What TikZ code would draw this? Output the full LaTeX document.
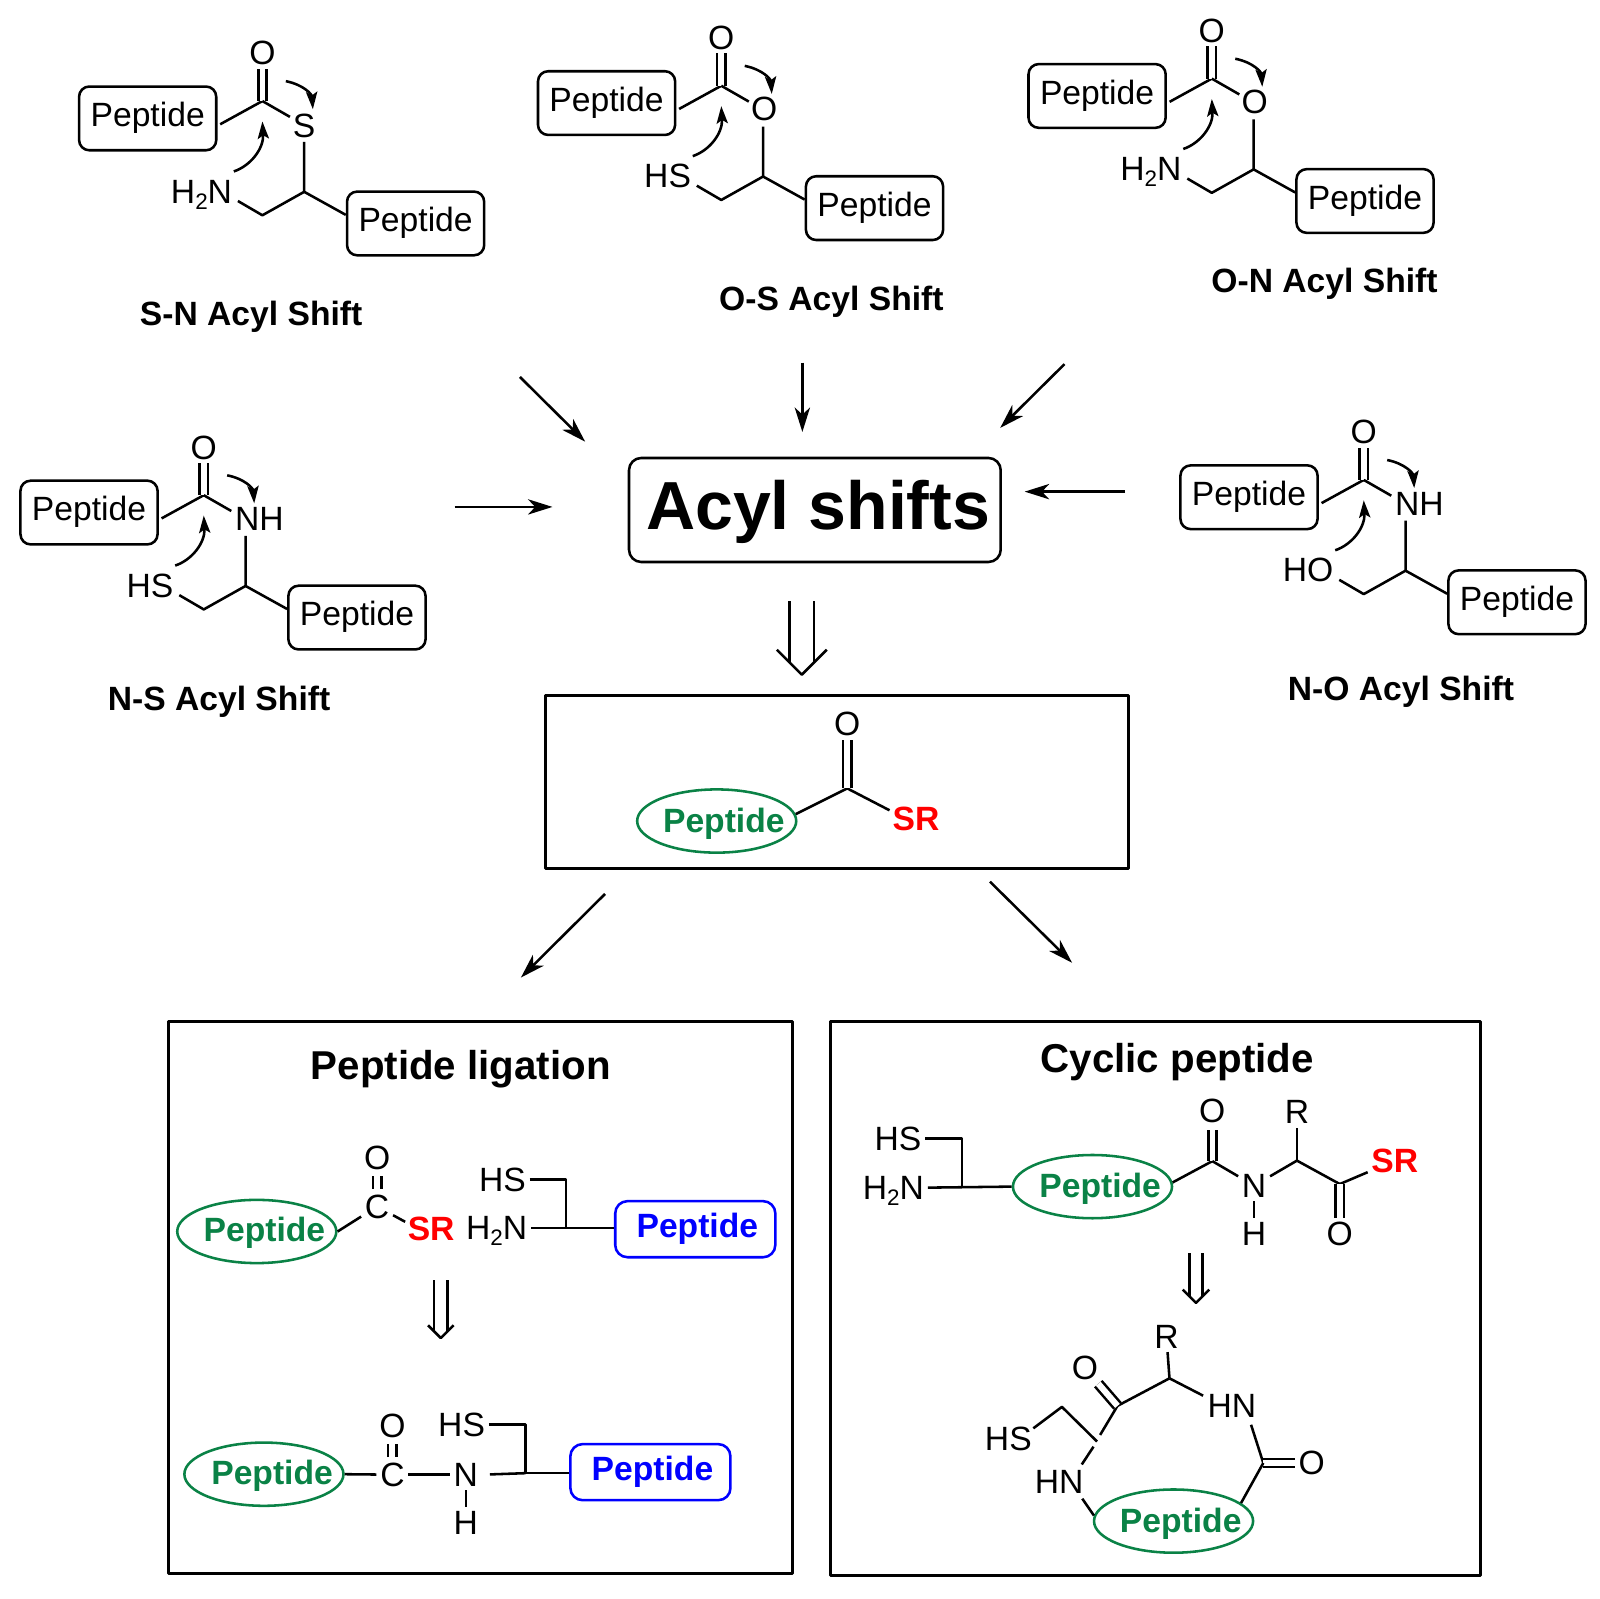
\documentclass[tikz,border=0pt]{standalone}
\usepackage{fontspec}
\setmainfont{Liberation Sans}
\usetikzlibrary{arrows.meta,shapes.geometric}
\definecolor{pgreen}{RGB}{10,130,70}
\newcommand\ats{\fontsize{33}{36}\selectfont}
\newcommand\Hii{H\raisebox{-6pt}{\fontsize{22}{22}\selectfont 2}N}
\tikzset{
  every path/.style={line width=2.5pt,line join=round},
  atom/.style={font=\ats,inner sep=2.5pt,anchor=base,text height=23pt,text depth=0pt},
  bfatom/.style={atom,font=\ats\bfseries},
  sr/.style={bfatom,text=red},
  shiftcap/.style={font=\fontsize{33}{36}\selectfont\bfseries,anchor=base,inner sep=0pt},
  title/.style={anchor=base,inner sep=0pt},
  pepbox/.style={draw,rounded corners=10pt,minimum width=134.5pt,minimum height=62.5pt,inner sep=0pt,font=\ats,text height=22.5pt,text depth=6.5pt},
  bluebox/.style={draw=blue,text=blue,rounded corners=12pt,minimum width=157pt,minimum height=55pt,inner sep=0pt,font=\ats\bfseries,text height=22.5pt,text depth=6.5pt},
  pepell/.style={draw=pgreen,ellipse,minimum width=156pt,minimum height=62pt,inner sep=0pt},
  peptxt/.style={bfatom,text=pgreen,text depth=0pt},
  frame/.style={draw,line width=3pt,inner sep=0pt},
  dbl/.style={double,double distance=5.5pt},
  rxn/.style={-{Stealth[length=24pt,width=15pt,inset=7pt]}},
  curly/.style={-{Stealth[length=17pt,width=11pt,inset=3.5pt]}},
}
\newcommand\acylmotif[5]{%
\begin{scope}[shift={(#2,#3)},name prefix=#1-]
  \node[pepbox] (p1) at (144,115.5) {Peptide};
  \node[pepbox] (p2) at (406.75,218.5) {Peptide};
  \coordinate (C) at (256.5,98.5);
  \coordinate (CH) at (297.5,187.5);
  \coordinate (CH2) at (256.5,210.5);
  \coordinate (Xa) at (283.5,114);
  \coordinate (Xb) at (297.5,138.5);
  \coordinate (Nb) at (232.5,196.5);
  \node[atom] (O) at (256.5,63) {O};
  #4
  \node[atom,anchor=base east] (Nu) at (230.5,198.5) {#5};
  \draw[shorten <=3pt] (p1.-6) -- (C);
  \draw[dbl] (C) -- (O);
  \draw (C) -- (Xa);
  \draw (Xb) -- (CH) -- (CH2) -- (Nb);
  \draw (CH) -- (p2.173);
  \coordinate (c1s) at (228.5,167.5);
  \coordinate (c1e) at (256.5,118.5);
  \coordinate (c2s) at (279.5,79);
  \coordinate (c2e) at (306,106.5);
  \draw[curly] (c1s) .. controls (245,162) and (258,145) .. (c1e);
  \draw[curly] (c2s) .. controls (297,82.5) and (305,92) .. (c2e);
\end{scope}}
\newcommand\retro[5]{% x, top, tip, half gap, head half
  \draw (#1-#4,#2) -- (#1-#4,#3-#4);
  \draw (#1+#4,#2) -- (#1+#4,#3-#4);
  \draw (#1-#5,#3-#5) -- (#1,#3) -- (#1+#5,#3-#5);}
\begin{document}
\begin{tikzpicture}[x=1pt,y=-1pt]
\useasboundingbox (-0.8,-0.6) rectangle (1567.2,1567.4);
\fill[white] (-0.8,-0.6) rectangle (1567.2,1567.4);

% five acyl-shift motifs
\acylmotif{sn}{0}{0}{\node[atom] (X) at (297.5,134) {S};}{\Hii}
\acylmotif{os}{450}{-15}{\node[atom] (X) at (298.5,132.5) {O};}{HS}
\acylmotif{on}{931}{-22}{\node[atom] (X) at (298.5,132.5) {O};}{\Hii}
\acylmotif{ns}{-57.5}{386.5}{\node[atom,anchor=base west,inner sep=0pt] (X) at (286,133.5) {NH};}{HS}
\acylmotif{no}{1080}{371.5}{\node[atom,anchor=base west,inner sep=0pt] (X) at (286,133.5) {NH};}{HO}

\node[shiftcap] (lsn) at (245.5,318.5) {S-N Acyl Shift};
\node[shiftcap] (los) at (814.5,303.5) {O-S Acyl Shift};
\node[shiftcap] (lon) at (1298,286.5) {O-N Acyl Shift};
\node[shiftcap] (lns) at (214,696.5) {N-S Acyl Shift};
\node[shiftcap] (lno) at (1373,686.5) {N-O Acyl Shift};

% central box and incoming arrows
\node[draw,rounded corners=12pt,minimum width=364.5pt,minimum height=102pt,inner sep=0pt] (acyl) at (798.25,499.5) {};
\node[anchor=base,inner sep=0pt,font=\fontsize{66.7}{70}\selectfont\bfseries] (acylt) at (801.5,519) {Acyl shifts};
\coordinate (a1s) at (509,369); \coordinate (a1e) at (573,432.5);
\coordinate (a2s) at (786,355); \coordinate (a2e) at (786,423);
\coordinate (a3s) at (1043,356.5); \coordinate (a3e) at (980,419);
\coordinate (a4s) at (445,496.5); \coordinate (a4e) at (541,496.5);
\coordinate (a5s) at (1102.5,481.5); \coordinate (a5e) at (1004,481.5);
\draw[rxn] (a1s) -- (a1e);
\draw[rxn] (a2s) -- (a2e);
\draw[rxn] (a3s) -- (a3e);
\draw[rxn] (a4s) -- (a4e);
\draw[rxn] (a5s) -- (a5e);
\retro{785.5}{589}{661}{12}{24.5}

% thioester box
\node[frame,minimum width=571.5pt,minimum height=170pt] (mb) at (819.75,766.5) {};
\node[pepell] (mE) at (702,804.5) {};
\node[peptxt] (mEt) at (709,816) {Peptide};
\coordinate (mC) at (830,772.5);
\coordinate (mSb) at (871.5,794);
\node[atom] (mO) at (830,721) {O};
\node[sr] (mS) at (897.5,814) {SR};
\draw (mE.5) -- (mC) -- (mSb);
\draw[dbl] (mC) -- (mO);
\coordinate (b1s) at (592.5,876); \coordinate (b1e) at (510,958);
\coordinate (b2s) at (970,864); \coordinate (b2e) at (1050.5,943.5);
\draw[rxn] (b1s) -- (b1e);
\draw[rxn] (b2s) -- (b2e);

% peptide ligation
\node[frame,minimum width=611.5pt,minimum height=540.5pt] (lb) at (470.25,1271.75) {};
\node[title,font=\fontsize{39.5}{42}\selectfont\bfseries] (lt) at (451,1057.5) {Peptide ligation};
\node[pepell] (lE) at (251,1207) {};
\node[peptxt] (lEt) at (258.5,1217) {Peptide};
\node[atom] (lC) at (369,1194) {C};
\node[atom] (lO) at (369,1146.5) {O};
\node[sr] (lS) at (422,1216) {SR};
\coordinate (lSb) at (396.5,1197.5);
\node[atom,anchor=base east] (lHS) at (518.5,1167.5) {HS};
\node[atom,anchor=base east] (lN) at (520,1215) {\Hii};
\coordinate (lJ) at (554,1204);
\node[bluebox] (lB) at (681,1204.75) {\hspace{4pt}Peptide};
\draw (lE.east) -- (lC);
\draw[dbl,double distance=6pt,shorten >=2pt,shorten <=2pt] (lC) -- (lO);
\draw (lC) -- (lSb);
\draw (lHS.east) -| (lJ);
\draw (lN.east) -- (lB.west |- lN.east);
\retro{431.5}{1255}{1311.5}{6.5}{12.5}

\node[pepell] (l2E) at (258,1445) {};
\node[peptxt] (l2Et) at (266,1455.5) {Peptide};
\node[atom] (l2C) at (384,1457) {C};
\node[atom] (l2O) at (384,1409.5) {O};
\node[atom] (l2N) at (456,1457) {N};
\node[atom] (l2H) at (456,1504) {H};
\node[atom,anchor=base east] (l2HS) at (478.5,1408) {HS};
\coordinate (l2J) at (514.5,1444);
\node[bluebox] (l2B) at (637,1443) {\hspace{4pt}Peptide};
\draw (l2E.east) -- (l2C);
\draw[dbl,double distance=6pt,shorten >=2pt,shorten <=2pt] (l2C) -- (l2O);
\draw (l2C) -- (l2N);
\draw (l2N) -- (l2H);
\draw[shorten <=8pt] (l2N.east) -- (l2J);
\draw (l2J) -- (l2B.west |- l2J);
\draw (l2HS.east) -| (l2J);

% cyclic peptide
\node[frame,minimum width=637pt,minimum height=542.5pt] (cb) at (1132.5,1272.75) {};
\node[title,font=\fontsize{39.5}{42}\selectfont\bfseries] (ct) at (1153.5,1051.5) {Cyclic peptide};
\node[atom,anchor=base east] (cHS) at (906.5,1127.5) {HS};
\node[atom,anchor=base east] (cNH) at (909,1175.5) {\Hii};
\coordinate (cJ) at (942.5,1164);
\node[pepell] (cE) at (1070.5,1163) {};
\node[peptxt] (cEt) at (1078,1174) {Peptide};
\coordinate (cC) at (1188,1138);
\node[atom] (cO) at (1188,1100.5) {O};
\node[atom] (cN) at (1229,1173.5) {N};
\node[atom] (cH) at (1229,1220.5) {H};
\coordinate (cCa) at (1271,1137.5);
\node[atom] (cR) at (1271,1101.5) {R};
\coordinate (cC2) at (1313,1160.5);
\node[sr] (cS) at (1367,1149) {SR};
\node[atom] (cO2) at (1313,1220.5) {O};
\draw (cHS.east) -| (cJ);
\draw (cNH.east) -- (cE.west);
\draw (cE.3) -- (cC);
\draw[dbl,shorten >=3pt] (cC) -- (cO);
\draw (cC) -- (cN);
\draw (cN) -- (cH);
\draw (cN) -- (cCa);
\draw (cCa) -- (cR);
\draw (cCa) -- (cC2);
\draw (cC2) -- (cS);
\draw[dbl] (cC2) -- (cO2);
\retro{1172}{1228.5}{1277}{6.5}{13}

\node[atom] (dR) at (1143,1321.5) {R};
\coordinate (dCa) at (1146,1351);
\coordinate (dHNb) at (1179,1368);
\node[atom] (dHN) at (1207.25,1389) {HN};
\coordinate (dHNc) at (1226,1396.5);
\coordinate (dC3) at (1238,1434);
\node[atom] (dO3) at (1285.5,1445.5) {O};
\node[pepell] (dE) at (1150,1491) {};
\node[peptxt] (dEt) at (1157,1502.5) {Peptide};
\node[atom] (dHN2) at (1037.75,1464) {HN};
\coordinate (dHN2a) at (1060.5,1469);
\coordinate (dHN2b) at (1060,1435.5);
\coordinate (dBr1) at (1071.5,1418);
\coordinate (dBr2) at (1078,1406.5);
\coordinate (dC4) at (1095,1378);
\node[atom] (dO4) at (1063,1352.5) {O};
\node[atom] (dHS) at (988,1421.5) {HS};
\coordinate (dHSb) at (1012.5,1400);
\coordinate (dCH2) at (1040.5,1379);
\coordinate (dCH) at (1075,1413);
\draw (dCa) -- (dR);
\draw (dCa) -- (dHNb);
\draw (dHNc) -- (dC3);
\draw[dbl] (dC3) -- (dO3);
\draw (dC3) -- (dE.15);
\draw (dHN2a) -- (dE.176);
\draw (dHN2b) -- (dBr1);
\draw (dBr2) -- (dC4) -- (dCa);
\draw[dbl,double distance=6pt] (dC4) -- (dO4);
\draw (dHSb) -- (dCH2) -- (dCH);
\end{tikzpicture}
\end{document}
